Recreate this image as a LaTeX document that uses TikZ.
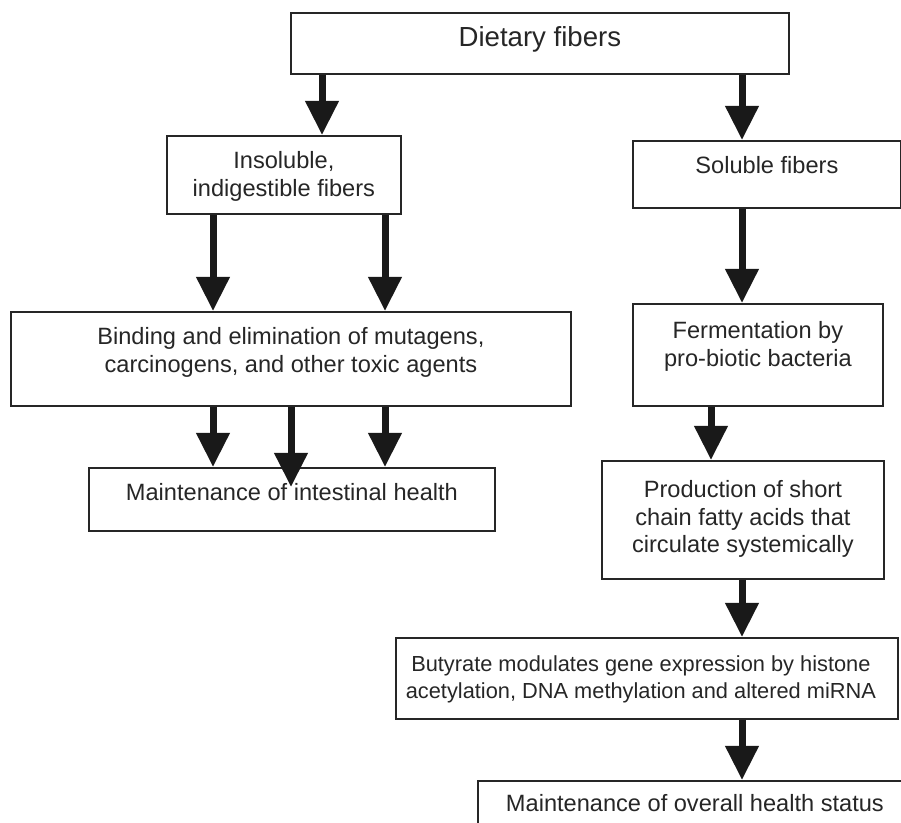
\documentclass[tikz,border=0pt]{standalone}
\usepackage{fontspec}
\setmainfont{Liberation Sans}
\usetikzlibrary{arrows.meta}
\begin{document}
\begin{tikzpicture}[x=.5pt, y=-.5pt,
  box/.style={draw=black!85, line width=.9pt, rectangle, anchor=north west, inner sep=0pt},
  boxtext/.style={anchor=north, align=center, inner sep=0pt, yshift=-8pt,
    font=\fontsize{11.8}{13.8}\selectfont, text=black!85},
  arr/.style={-{Triangle[width=16pt,length=17pt]}, line width=3.5pt, draw=black!90}]
\useasboundingbox (0,0) rectangle (901,823);
\clip (0,0) rectangle (901,823);
\node[box, minimum width=249pt, minimum height=30.5pt,
  label={[boxtext, font=\fontsize{13.8}{16}\selectfont, yshift=1pt]north:Dietary fibers}] (diet) at (290,12) {};
\node[box, minimum width=117pt, minimum height=39pt,
  label={[boxtext]north:{Insoluble,\\indigestible fibers}}] (ins) at (166,135) {};
\node[box, minimum width=134pt, minimum height=33.5pt,
  label={[boxtext]north:Soluble fibers}] (sol) at (632,140) {};
\node[box, minimum width=280pt, minimum height=47pt,
  label={[boxtext]north:{Binding and elimination of mutagens,\\carcinogens, and other toxic agents}}] (bind) at (10,311) {};
\node[box, minimum width=125pt, minimum height=51pt,
  label={[boxtext, yshift=-1pt]north:{Fermentation by\\pro-biotic bacteria}}] (ferm) at (632,303) {};
\node[box, minimum width=203pt, minimum height=31.5pt,
  label={[boxtext]north:Maintenance of intestinal health}] (intest) at (88,467) {};
\node[box, minimum width=141pt, minimum height=59pt,
  label={[boxtext, yshift=-2pt]north:{Production of short\\chain fatty acids that\\circulate systemically}}] (prod) at (601,460) {};
\node[box, minimum width=251pt, minimum height=40.5pt,
  label={[boxtext, font=\fontsize{10.9}{13.6}\selectfont, xshift=-3pt, yshift=-1pt]north:{Butyrate modulates gene expression by histone\\acetylation, DNA methylation and altered miRNA}}] (but) at (395,637) {};
\node[box, minimum width=217pt, minimum height=40pt,
  label={[boxtext, yshift=1pt]north:Maintenance of overall health status}] (over) at (477,780) {};
\coordinate (mid) at (291,487);
% left branch
\draw[arr] (diet.south -| 322,0) -- (ins.north -| 322,0);
\draw[arr] (ins.south -| 213,0) -- (bind.north -| 213,0);
\draw[arr] (ins.south -| 385,0) -- (bind.north -| 385,0);
\draw[arr] (bind.south -| 213,0) -- (intest.north -| 213,0);
\draw[arr] (bind.south -| mid) -- (mid);
\draw[arr] (bind.south -| 385,0) -- (intest.north -| 385,0);
% right branch
\draw[arr] (diet.south -| 742,0) -- (sol.north -| 742,0);
\draw[arr] (sol.south -| 742,0) -- (ferm.north -| 742,0);
\draw[arr] (ferm.south -| 711,0) -- (prod.north -| 711,0);
\draw[arr] (prod.south -| 742,0) -- (but.north -| 742,0);
\draw[arr] (but.south -| 742,0) -- (over.north -| 742,0);
\end{tikzpicture}
\end{document}
